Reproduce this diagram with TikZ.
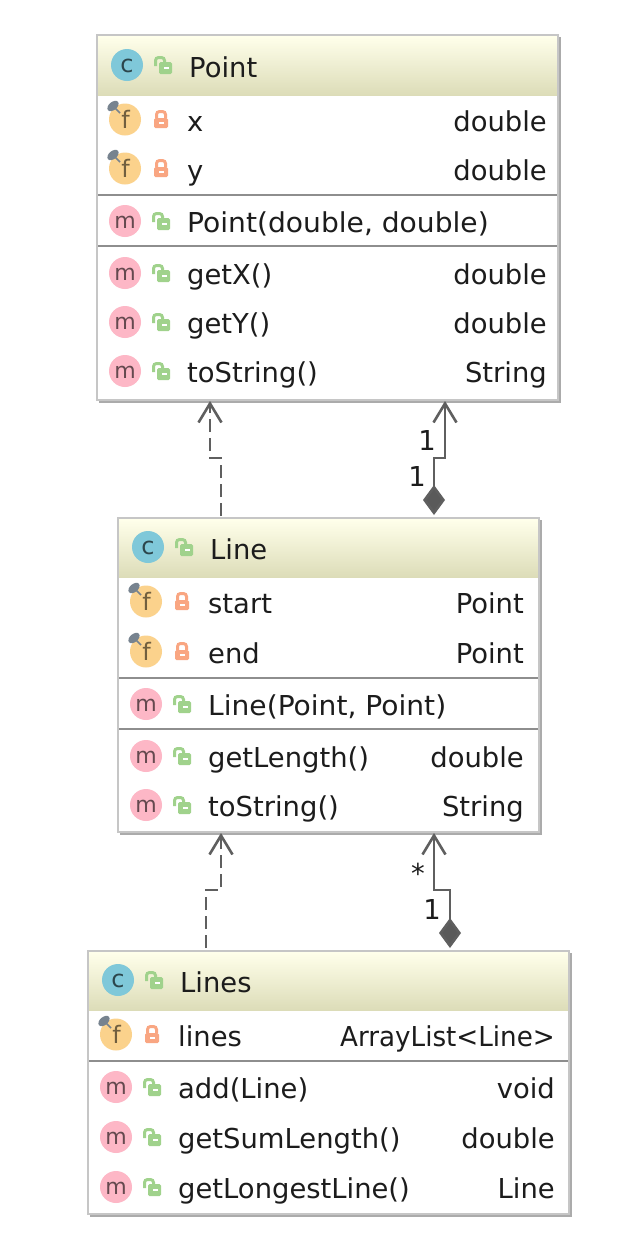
\documentclass[tikz,border=0pt]{standalone}
\usepackage{fontspec}
\setmainfont{DejaVu Sans}
\usetikzlibrary{arrows.meta,calc}
\definecolor{txt}{HTML}{1C1C1C}
\definecolor{edge}{HTML}{5F5F5F}
\definecolor{frame}{HTML}{C6C6C6}
\definecolor{frameb}{HTML}{ABABAB}
\definecolor{sep}{HTML}{8E8E8E}
\definecolor{cfill}{HTML}{7FC8D9}
\definecolor{ffill}{HTML}{FBD28C}
\definecolor{mfill}{HTML}{FDB7C6}
\definecolor{gopen}{HTML}{A0D28C}
\definecolor{rlock}{HTML}{F9A682}
\definecolor{pincol}{HTML}{77838F}
\tikzset{
  lbl/.style={anchor=base west,inner sep=0pt,text=txt,font=\fontsize{27.4}{30}\selectfont},
  typ/.style={anchor=base east,inner sep=0pt,text=txt,font=\fontsize{27.4}{30}\selectfont},
  umlbox/.style={anchor=north west,draw=frame,line width=2.4pt,inner sep=0pt,outer sep=0pt},
  ic/.style={inner sep=0pt,font=\fontsize{24}{26}\selectfont},
  rel/.style={draw=edge,line width=2.6pt},
  realize/.style={rel,dash pattern=on 13pt off 6pt,-{Straight Barb[length=19pt,width=23pt,line width=2.6pt]}},
  compose/.style={rel,{Diamond[length=30pt,width=22pt,fill=edge!95!black]}-{Straight Barb[length=19pt,width=23pt,line width=2.6pt]}},
  mult/.style={inner sep=0pt,text=txt,font=\fontsize{27.4}{30}\selectfont},
}
% open lock centred at x,y
\newcommand{\lockO}[2]{%
  \fill[gopen,rounded corners=1.5pt] (#1-4,#2-3) rectangle (#1+9,#2+9);
  \draw[gopen,line width=3pt,rounded corners=3pt] (#1-7.5,#2+1)--(#1-7.5,#2-7.5)--(#1+1.5,#2-7.5)--(#1+1.5,#2-2);
  \fill[white] (#1+0.5,#2+2) rectangle (#1+5.5,#2+3.6);}
% closed lock centred at x,y
\newcommand{\lockC}[2]{%
  \fill[rlock,rounded corners=1.5pt] (#1-7,#2-1) rectangle (#1+7,#2+9);
  \draw[rlock,line width=3pt,rounded corners=3pt] (#1-4.5,#2-1)--(#1-4.5,#2-7.5)--(#1+4.5,#2-7.5)--(#1+4.5,#2-1);
  \fill[white] (#1-2.5,#2+3) rectangle (#1+2.5,#2+4.6);}
% field row: name, left x, baseline, text, type, right x
\newcommand{\fieldrow}[6]{%
  \fill[ffill] (#2+28,#3-11.5) circle (16);
  \node[ic,text=ffill!45!black,anchor=base] (#1i) at (#2+28.5,#3-3) {f};
  \fill[pincol,rotate around={40:(#2+16,#3-25)}] (#2+16,#3-25) ellipse (6.5 and 4);
  \draw[pincol,line width=1.6pt] (#2+18,#3-23)--(#2+23,#3-18);
  \lockC{#2+64}{#3-12}
  \node[lbl] (#1n) at (#2+90,#3) {#4};
  \node[typ] (#1t) at (#6,#3) {#5};}
% method row
\newcommand{\methodrow}[6]{%
  \fill[mfill] (#2+28,#3-11) circle (16);
  \node[ic,text=mfill!40!black,anchor=base,font=\fontsize{22}{24}\selectfont] (#1i) at (#2+28,#3-4) {m};
  \lockO{#2+64}{#3-11}
  \node[lbl] (#1n) at (#2+90,#3) {#4};
  \if\relax\detokenize{#5}\relax\else\node[typ] (#1t) at (#6,#3) {#5};\fi}
% class box: name, left, top, width, height, header bottom, header baseline, title
\newcommand{\classbox}[8]{%
  \fill[frameb] (#2+2,#3+2) rectangle (#2+#4+3,#3+#5+3);
  \node[umlbox,fill=white,minimum width=#4pt,minimum height=#5pt] (#1) at (#2,#3) {};
  \shade[top color=white!92!yellow,bottom color=black!10!yellow!18!white!88!black] (#2+1.2,#3+1.2) rectangle (#2+#4-1.2,#6);
  \fill[cfill] (#2+30,#7-12) circle (16);
  \node[ic,text=cfill!35!black,anchor=base] (#1i) at (#2+30,#7-5) {c};
  \lockO{#2+66}{#7-12}
  \node[lbl] (#1n) at (#2+92,#7) {#8};}
\newcommand{\septr}[3]{\draw[sep,line width=2.4pt] (#1+1,#3)--(#2-1,#3);}
\begin{document}
\begin{tikzpicture}[x=1pt,y=-1pt]
\useasboundingbox (0,0) rectangle (620,1248);
\fill[white] (0,0) rectangle (620,1248);
% Point
\classbox{point}{97}{35}{461}{365}{95}{77}{Point}
\fieldrow{px}{97}{131}{x}{double}{547}
\fieldrow{py}{97}{180}{y}{double}{547}
\septr{97}{558}{195}
\methodrow{pc}{97}{232}{\scalebox{1.027}[1]{Point(double, double)}}{}{547}
\septr{97}{558}{246}
\methodrow{pgx}{97}{284}{getX()}{double}{547}
\methodrow{pgy}{97}{333}{getY()}{double}{547}
\methodrow{pts}{97}{382}{toString()}{String}{547}
% Line
\classbox{line}{118}{518}{421}{314}{577}{559}{Line}
\fieldrow{ls}{118}{613}{start}{Point}{524}
\fieldrow{le}{118}{663}{end}{Point}{524}
\septr{118}{539}{678}
\methodrow{lc}{118}{715}{\scalebox{1.026}[1]{Line(Point, Point)}}{}{524}
\septr{118}{539}{729}
\methodrow{lgl}{118}{767}{getLength()}{double}{524}
\methodrow{lts}{118}{816}{toString()}{String}{524}
% Lines
\classbox{lines}{88}{951}{481}{263}{1010}{992}{Lines}
\fieldrow{ll}{88}{1046}{lines}{\scalebox{0.955}[1]{ArrayList<Line>}}{555}
\septr{88}{569}{1061}
\methodrow{la}{88}{1098}{add(Line)}{void}{555}
\methodrow{lsl}{88}{1148}{getSumLength()}{double}{555}
\methodrow{lll}{88}{1198}{getLongestLine()}{Line}{555}
% connectors
\draw[realize] ($(line.north west)+(103,-2)$) -- ++(0,-58) -- ++(-11,0) -- ($(point.south west)+(113,1)$);
\draw[compose] ($(line.north west)+(316,-3)$) -- ++(0,-57) -- ++(11,0) -- ($(point.south west)+(348,1)$);
\draw[realize] ($(lines.north west)+(118,-3)$) -- ++(0,-58) -- ++(15,0) -- ($(line.south west)+(103,1)$);
\draw[compose] ($(lines.north west)+(362,-3)$) -- ++(0,-58) -- ++(-16,0) -- ($(line.south west)+(316,1)$);
\node[mult] (m1) at (427,441) {1};
\node[mult] (m2) at (417,477) {1};
\node[mult] (m3) at (418,873) {*};
\node[mult] (m4) at (432,909) {1};
\end{tikzpicture}
\end{document}
